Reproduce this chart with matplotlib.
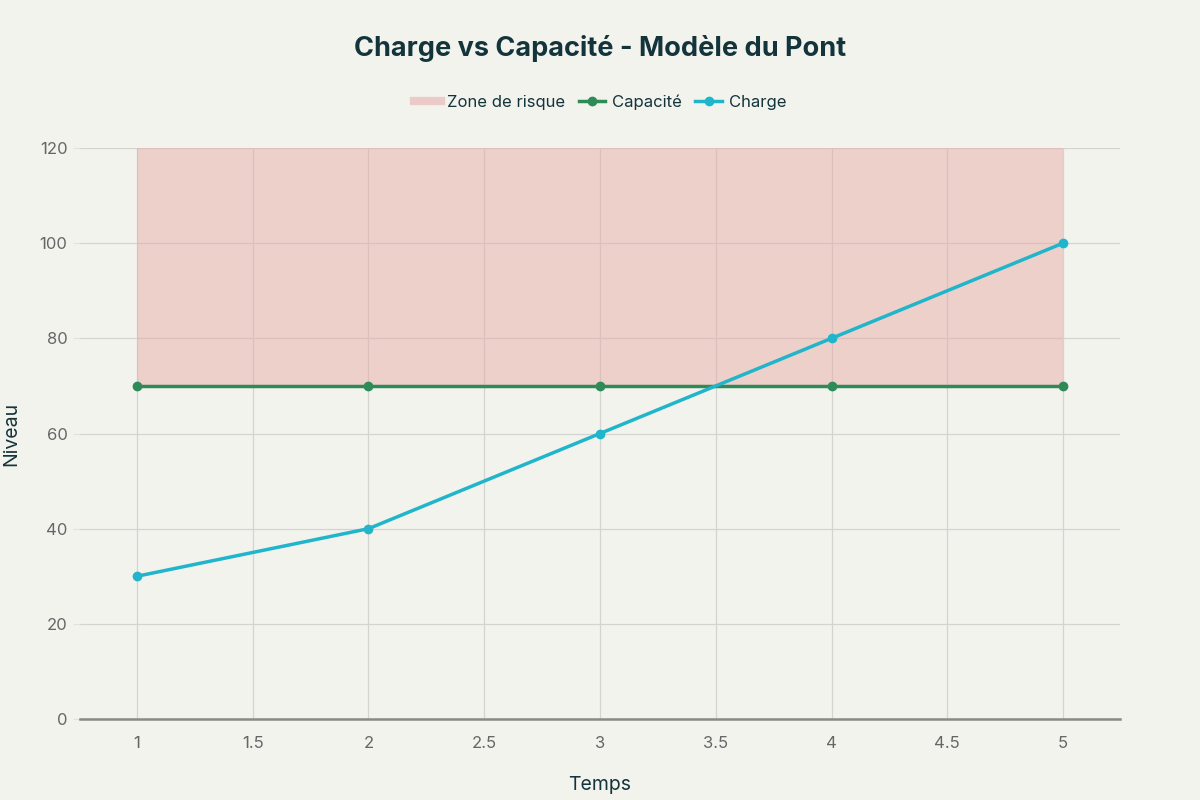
import matplotlib
matplotlib.use("Agg")
import matplotlib.pyplot as plt
from matplotlib.lines import Line2D

temps = [1, 2, 3, 4, 5]
capacite = [70, 70, 70, 70, 70]
charge = [30, 40, 60, 80, 100]
zone_bas = 70
zone_haut = 120
x_ticks = [1, 1.5, 2, 2.5, 3, 3.5, 4, 4.5, 5]
x_tick_labels = ["1", "1.5", "2", "2.5", "3", "3.5", "4", "4.5", "5"]
y_ticks = [0, 20, 40, 60, 80, 100, 120]

plt.rcParams['font.family'] = ['Inter', 'DejaVu Sans']
bg = "#f3f3ee"
fig = plt.figure(figsize=(12, 8), dpi=100, facecolor=bg)
ax = fig.add_axes([80/1200, 1 - 719/800, 1040/1200, (719-148)/800], facecolor=bg)

ax.fill_between(temps, [zone_bas]*len(temps), [zone_haut]*len(temps),
                color="#e8aea8", alpha=0.5, linewidth=0, zorder=1)
ax.plot(temps, capacite, color="#2e8b57", linewidth=2.5, marker="o", markersize=6, zorder=3)
ax.plot(temps, charge, color="#21b5cc", linewidth=2.5, marker="o", markersize=6, zorder=4)

ax.set_xlim(0.754, 5.246)
ax.set_ylim(0, 120)
ax.set_xticks(x_ticks)
ax.set_xticklabels(x_tick_labels)
ax.set_yticks(y_ticks)
ax.grid(True, color="#d3d3d0", linewidth=0.9, zorder=0)
ax.set_axisbelow(True)
for s in ["top", "right", "left"]:
    ax.spines[s].set_visible(False)
ax.spines["bottom"].set_color("#8a8a85")
ax.spines["bottom"].set_linewidth(1.8)
ax.tick_params(axis="both", colors="#e0e0dc", labelcolor="#666666", labelsize=12, length=5)
ax.tick_params(axis="x", length=0, pad=12)
ax.tick_params(axis="y", pad=4)

ax.set_xlabel("Temps", fontsize=14, color="#13343b", labelpad=18)
ax.set_ylabel("Niveau", fontsize=14, color="#13343b", labelpad=14)

fig.text(0.5, 1 - 48/800, "Charge vs Capacité - Modèle du Pont", ha="center", va="center",
         fontsize=19.5, fontweight="bold", color="#13343b")

handles = [
    Line2D([0], [0], color="#eccac7", linewidth=6),
    Line2D([0], [0], color="#2e8b57", linewidth=2.5, marker="o", markersize=6),
    Line2D([0], [0], color="#21b5cc", linewidth=2.5, marker="o", markersize=6),
]
fig.legend(handles, ["Zone de risque", "Capacité", "Charge"], loc="center",
           bbox_to_anchor=(0.5, 1 - 102/800), ncol=3, frameon=False, fontsize=12,
           handlelength=1.6, handletextpad=0.4, columnspacing=0.8, labelcolor="#13343b")

fig.savefig("out.png", dpi=100, facecolor=bg)
